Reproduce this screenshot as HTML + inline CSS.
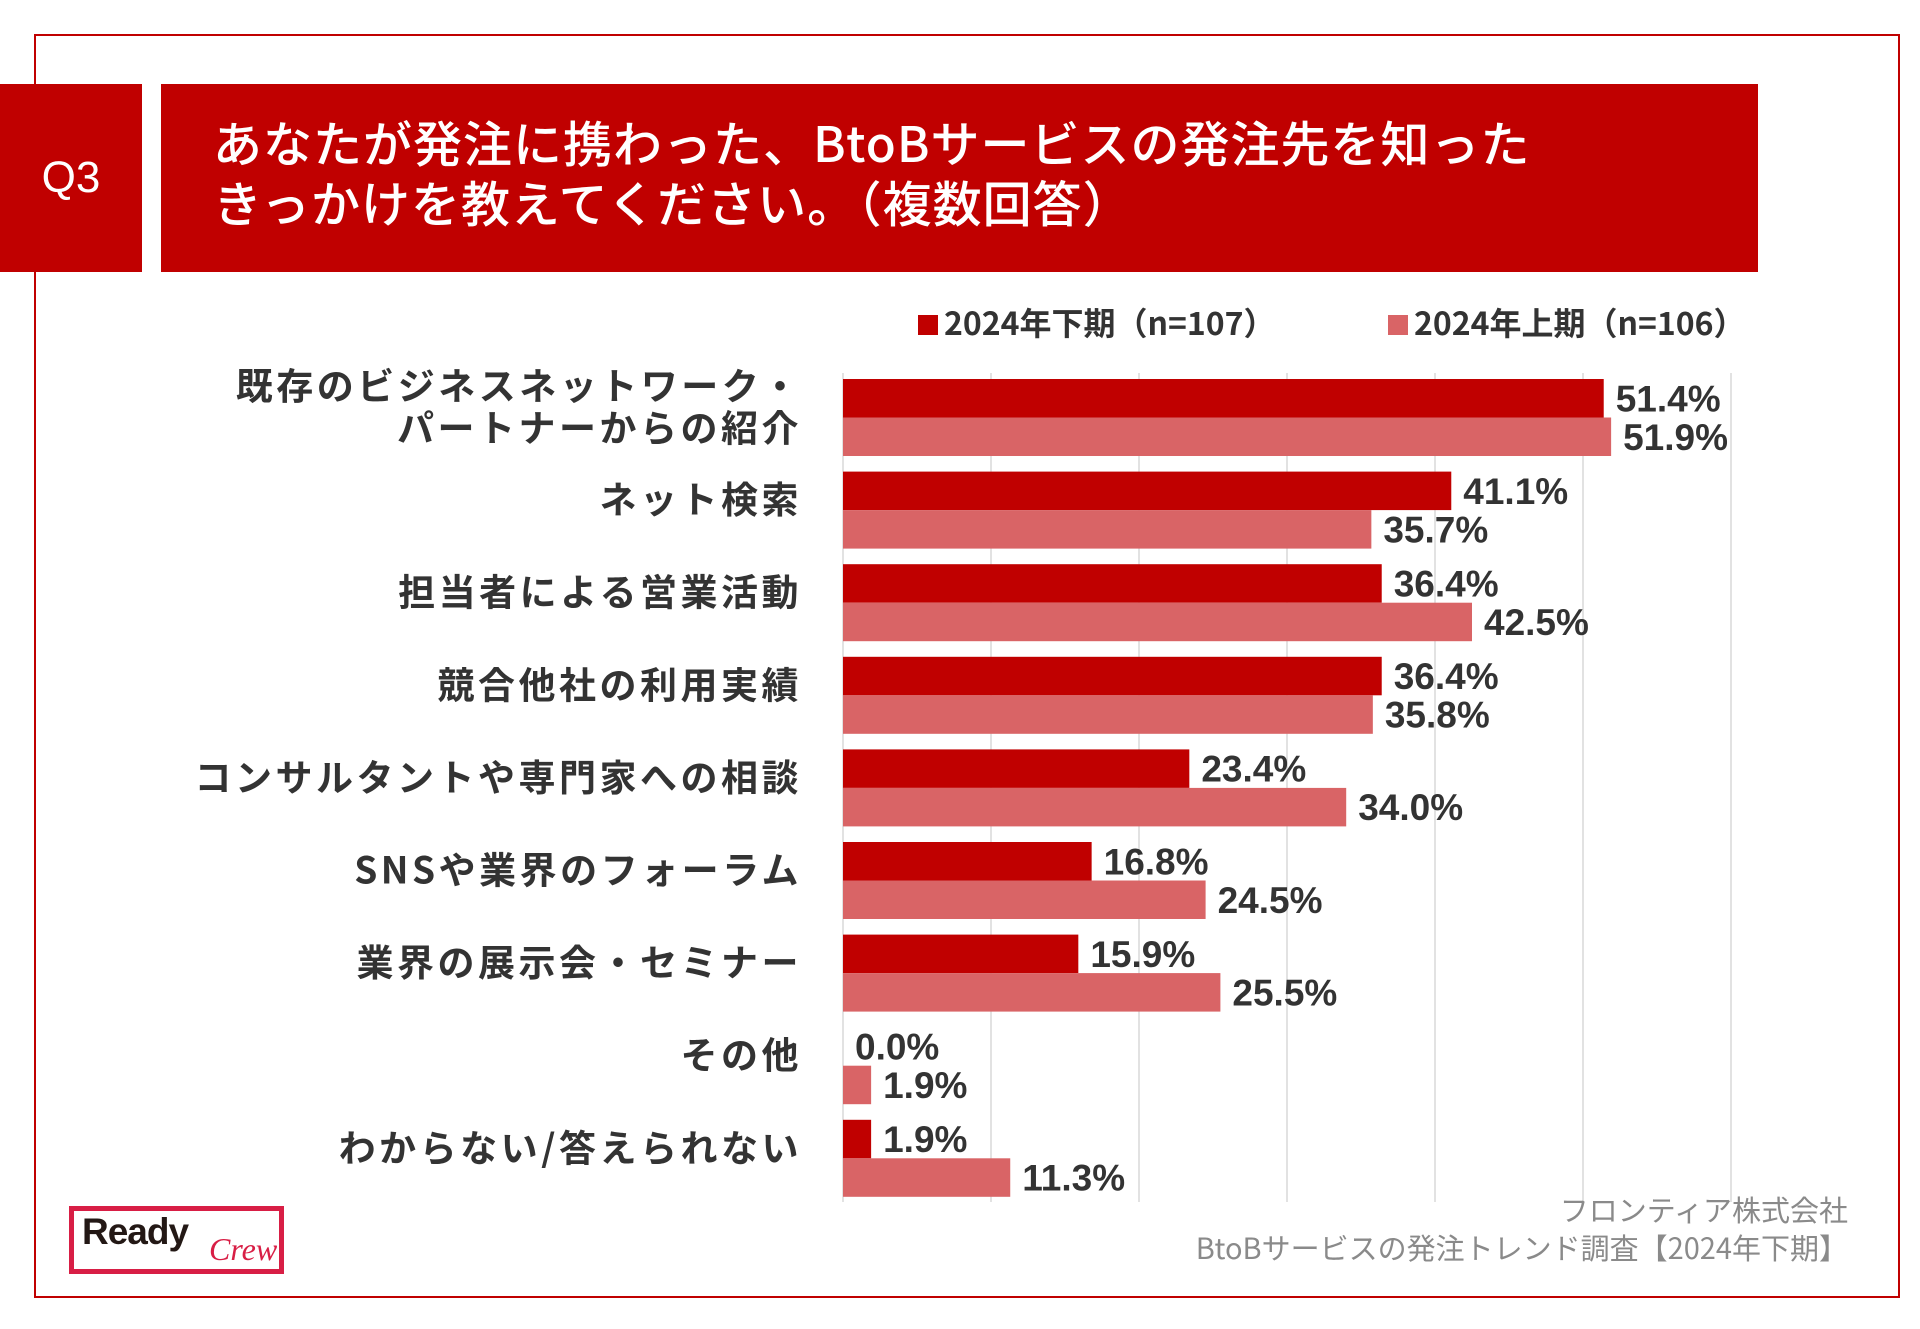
<!DOCTYPE html>
<html><head><meta charset="utf-8"><style>
html,body{margin:0;padding:0;background:#fff;}
body{width:1920px;height:1329px;position:relative;overflow:hidden;font-family:"Liberation Sans","Noto Sans CJK JP",sans-serif;}
.abs{position:absolute;}
</style></head><body>
<div class="abs" style="left:34px;top:34px;width:1862px;height:1264px;border:2px solid #c00000;box-sizing:border-box;width:1866px;"></div>
<div class="abs" style="left:0;top:84px;width:142px;height:188px;background:#c00000;color:#fff;font-size:44px;display:flex;align-items:center;justify-content:center;">Q3</div>
<div class="abs" style="left:161px;top:84px;width:1597px;height:188px;background:#c00000;color:#fff;">
<div style="position:absolute;left:52px;top:28px;white-space:nowrap;font-family:'Noto Sans CJK JP',sans-serif;font-weight:500;font-size:49px;line-height:60px;letter-spacing:1px;">あなたが発注に携わった、BtoBサービスの発注先を知った<br>きっかけを教えてください。（複数回答）</div>
</div>
<svg class="abs" style="left:0;top:0" width="1920" height="1329" id="chart"></svg>
<div class="abs" style="right:72px;top:1190px;text-align:right;color:#8a8a8a;font-size:29px;line-height:38px;font-family:'Noto Sans CJK JP',sans-serif;">フロンティア株式会社<br>BtoBサービスの発注トレンド調査【2024年下期】</div>
<div class="abs" style="left:69px;top:1206px;width:205px;height:58px;border:5px solid #d81e45;">
<span style="position:absolute;left:8px;top:0px;font-size:37px;font-weight:bold;color:#231815;letter-spacing:-1px;">Ready</span>
<span style="position:absolute;left:135px;top:20px;font-size:32px;font-style:italic;color:#d81e45;font-family:'Liberation Serif',serif;">Crew</span>
</div>
<script>
const categories=["既存のビジネスネットワーク・\nパートナーからの紹介","ネット検索","担当者による営業活動","競合他社の利用実績","コンサルタントや専門家への相談","SNSや業界のフォーラム","業界の展示会・セミナー","その他","わからない/答えられない"];
const seriesH2=[51.4,41.1,36.4,36.4,23.4,16.8,15.9,0.0,1.9];
const seriesH1=[51.9,35.7,42.5,35.8,34.0,24.5,25.5,1.9,11.3];
const gridTicks=[0,10,20,30,40,50,60];
const legendLabels=["2024年下期（n=107）","2024年上期（n=106）"];
const svg=document.getElementById('chart');
const NS='http://www.w3.org/2000/svg';
const x0=843, pxPer=14.8, top0=379, groupH=92.6, barH=38.5;
const xs=v=>x0+v*pxPer;
const yg=i=>top0+i*groupH;
function mk(t,a){const e=document.createElementNS(NS,t);for(const k in a)e.setAttribute(k,a[k]);svg.appendChild(e);return e;}
gridTicks.forEach((t,i)=>{const l=mk('line',{x1:xs(t),x2:xs(t),y1:373,y2:1202,stroke:'#d9d9d9','stroke-width':1.5});

});
const cols=['#c00000','#d96466'];
[seriesH2,seriesH1].forEach((s,si)=>{s.forEach((v,i)=>{
const y=yg(i)+si*barH;
const r=mk('rect',{x:x0,y:y,width:Math.max(0,xs(v)-x0),height:barH,fill:cols[si]});


const t=mk('text',{x:xs(v)+12,y:y+barH/2+13,'font-size':37,fill:'#333','font-weight':'bold'});
t.textContent=v.toFixed(1)+'%';


});});
categories.forEach((c,i)=>{const lines=c.split('\n');const cy=yg(i)+barH;
lines.forEach((ln,j)=>{const t=mk('text',{x:802,y:cy+3+(j-(lines.length-1)/2)*42,'text-anchor':'end','font-size':37,fill:'#333','font-weight':'bold','font-family':'"Noto Sans CJK JP",sans-serif','letter-spacing':'3.5'});
t.textContent=ln;

});});
const lx=[918,1388];
legendLabels.forEach((lb,i)=>{
const r=mk('rect',{x:lx[i],y:315,width:20,height:20,fill:cols[i]});


const t=mk('text',{x:lx[i]+26,y:335,'font-size':32,fill:'#333','font-weight':'bold','font-family':'"Noto Sans CJK JP",sans-serif'});
t.textContent=lb;

});
</script>
</body></html>
